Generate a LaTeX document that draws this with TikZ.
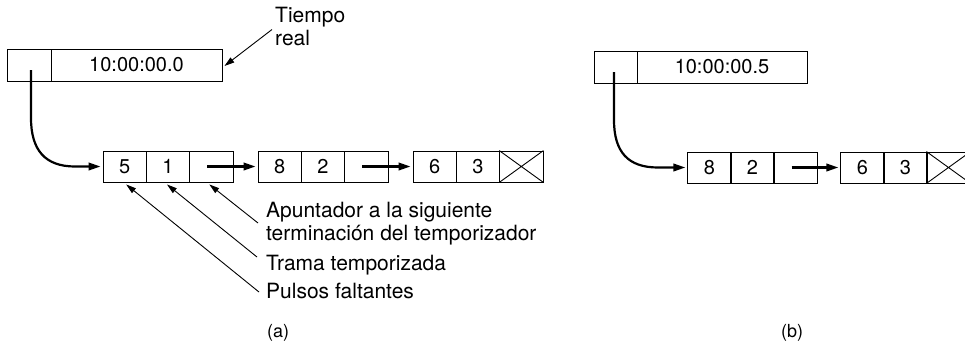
\documentclass[tikz,border=0pt]{standalone}
\usepackage{fontspec}
\setmainfont{TeX Gyre Heros}
\usetikzlibrary{arrows.meta}
\begin{document}
\begin{tikzpicture}[x=1pt,y=-1pt,
  cell/.style={draw, line width=0.9pt, minimum height=31pt, minimum width=43.33pt, inner sep=0pt, font=\fontsize{20}{23}\selectfont},
  lbl/.style={font=\fontsize{21}{23}\selectfont, inner sep=0pt, align=left, anchor=north west},
  subcap/.style={font=\fontsize{18}{20}\selectfont, inner sep=0pt},
  ptr/.style={line width=2.2pt, shorten >=2pt, -{Triangle[length=12pt,width=7.5pt]}},
  thinptr/.style={line width=0.9pt, -{Triangle[length=10pt,width=6pt]}}]
\useasboundingbox (0,0) rectangle (965,349);
\clip (0,0) rectangle (965,349);

% ---------- (a) ----------
\node[cell, minimum width=44pt, minimum height=32pt] (ta1) at (29,65) {};
\node[cell, minimum width=171pt, minimum height=32pt] (ta2) at (136.5,65) {10:00:00.0};
\node[lbl] (tr) at (275,7) {Tiempo\\real};

\node[cell] (a11) at (124.67,166.5) {5};
\node[cell] (a12) at (168,166.5) {1};
\node[cell] (a13) at (211.33,166.5) {};
\node[cell] (a21) at (279.67,166.5) {8};
\node[cell] (a22) at (323,166.5) {2};
\node[cell] (a23) at (366.33,166.5) {};
\node[cell] (a31) at (434.67,166.5) {6};
\node[cell] (a32) at (478,166.5) {3};
\node[cell] (a33) at (521.33,166.5) {};
\draw[line width=0.9pt] (a33.north west) -- (a33.south east) (a33.south west) -- (a33.north east);

\draw[ptr] ([xshift=2pt,yshift=-5pt]ta1.center) -- (31,118) .. controls (31,150) and (45,166.5) .. (75,166.5) -- (a11.west);
\draw[ptr] ([xshift=-4pt]a13.center) -- (a21.west);
\draw[ptr] ([xshift=-4pt]a23.center) -- (a31.west);

\draw[thinptr] ([xshift=-3pt,yshift=-3pt]tr.west) -- ([xshift=2pt,yshift=-1pt]ta2.east);

\node[lbl] (l1) at (266,202) {Apuntador a la siguiente\\terminación del temporizador};
\node[lbl, anchor=base west] (l2) at (266,270) {Trama temporizada};
\node[lbl, anchor=base west] (l3) at (266,298) {Pulsos faltantes};
\coordinate (e1) at (258,223);
\coordinate (e2) at (257,257);
\coordinate (e3) at (259,292);
\draw[thinptr] (e1) -- ([xshift=-2pt,yshift=-2pt]a13.south);
\draw[thinptr] (e2) -- ([xshift=-1pt,yshift=-2pt]a12.south);
\draw[thinptr] (e3) -- ([xshift=1.5pt,yshift=-2pt]a11.south);

\node[subcap] (capa) at (278,333) {(a)};

% ---------- (b) ----------
\node[cell, minimum width=43pt, minimum height=32pt] (tb1) at (615.5,67) {};
\node[cell, minimum width=170pt, minimum height=32pt] (tb2) at (722,67) {10:00:00.5};

\node[cell] (b11) at (709.5,167.5) {8};
\node[cell] (b12) at (752.5,167.5) {2};
\node[cell] (b13) at (795.5,167.5) {};
\node[cell] (b21) at (862.5,167.5) {6};
\node[cell] (b22) at (905.5,167.5) {3};
\node[cell] (b23) at (948.5,167.5) {};
\draw[line width=0.9pt] (b23.north west) -- (b23.south east) (b23.south west) -- (b23.north east);

\draw[ptr] ([xshift=-1.5pt,yshift=-5pt]tb1.center) -- (614,120) .. controls (614,152) and (628,167.5) .. (658,167.5) -- (b11.west);
\draw[ptr] ([xshift=-4pt]b13.center) -- (b21.west);

\node[subcap] (capb) at (792,333) {(b)};
\end{tikzpicture}
\end{document}
